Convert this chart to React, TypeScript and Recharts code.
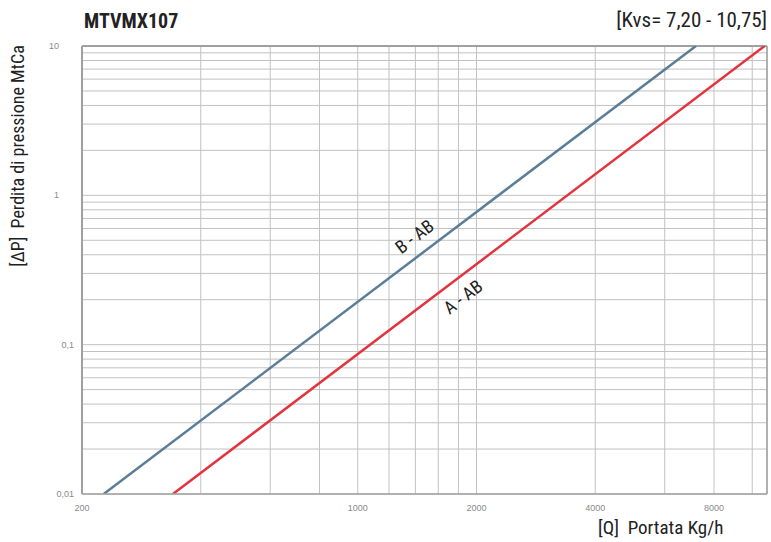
import React from "react";
import {
  LineChart,
  Line,
  XAxis,
  YAxis,
  CartesianGrid,
  ReferenceLine,
  ReferenceDot,
} from "recharts";

// flow rate Q [kg/h] vs pressure drop dP [mCa]
const bAbQ = [227, 7200];
const bAbDp = [0.01, 10];
const aAbQ = [340, 10750];
const aAbDp = [0.01, 10];

const xGridTicks = [200, 400, 600, 800, 1000, 1200, 1400, 1600, 1800, 2000, 4000, 6000, 8000, 10000];
const xLabelTicks = [200, 1000, 2000, 4000, 8000];
const yGridTicks = [
  0.01, 0.02, 0.03, 0.04, 0.05, 0.06, 0.07, 0.08, 0.09,
  0.1, 0.2, 0.3, 0.4, 0.5, 0.6, 0.7, 0.8, 0.9,
  1, 2, 3, 4, 5, 6, 7, 8, 9, 10,
];
const yLabelTicks = [0.01, 0.1, 1, 10];
const yLabelText = ["0,01", "0,1", "1", "10"];

const curveNames = ["B - AB", "A - AB"];
const curveLabelQ = [1400, 1860];
const curveLabelDp = [0.52, 0.205];

const X_MIN = 200;
const X_MAX = 10900;
const Y_MIN = 0.01;
const Y_MAX = 10;

const NARROW = "'Liberation Sans Narrow', 'Arial Narrow', 'Roboto Condensed', 'Liberation Sans', sans-serif";
const GRID = "#c2c2c2";
const FRAME = "#a0a0a0";
const BLUE = "#5b7d98";
const RED = "#e2343f";

const toPoints = (qs: number[], dps: number[]) => qs.map((q, i) => ({ q, dp: dps[i] }));

function XTick(props: any) {
  const { x, y, payload } = props;
  if (!xLabelTicks.includes(payload.value)) return null;
  return (
    <text x={x} y={y + 9} textAnchor="middle" fontSize={9} fill="#8a8a8a" fontFamily="'Liberation Sans', Arial, sans-serif">
      {payload.value}
    </text>
  );
}

function YTick(props: any) {
  const { x, y, payload } = props;
  const i = yLabelTicks.indexOf(payload.value);
  if (i < 0) return null;
  const shift = payload.value >= 1 ? -15 : 0;
  return (
    <text x={x + shift} y={y + 3} textAnchor="end" fontSize={9} fill="#8a8a8a" fontFamily="'Liberation Sans', Arial, sans-serif">
      {yLabelText[i]}
    </text>
  );
}

function CurveLabel(text: string) {
  return (p: any) => (
    <text
      x={p.cx}
      y={p.cy}
      textAnchor="middle"
      dominantBaseline="middle"
      fontSize={18}
      fill="#222"
      fontFamily={NARROW}
      transform={`rotate(-37 ${p.cx} ${p.cy})`}
    >
      {text}
    </text>
  );
}

export default function App() {
  return (
    <div style={{ position: "absolute", left: 0, top: 0, width: 771, height: 542, background: "#fff" }}>
      <div style={{ position: "absolute", left: 84, top: 9, fontFamily: NARROW, fontWeight: "bold", fontSize: 20, color: "#222" }}>
        MTVMX107
      </div>
      <div style={{ position: "absolute", right: 4, top: 8, fontFamily: NARROW, fontSize: 21, color: "#222" }}>
        [Kvs= 7,20 - 10,75]
      </div>
      <div
        style={{
          position: "absolute",
          left: 17,
          top: 156,
          fontFamily: NARROW,
          fontSize: 18,
          color: "#222",
          whiteSpace: "nowrap",
          transform: "translate(-50%, -50%) rotate(-90deg)",
        }}
      >
        [ΔP]&nbsp;&nbsp;Perdita di pressione MtCa
      </div>
      <div
        style={{
          position: "absolute",
          left: 598,
          top: 518,
          fontFamily: NARROW,
          fontSize: 19,
          lineHeight: 1,
          color: "#222",
          whiteSpace: "nowrap",
        }}
      >
        [Q]&nbsp;&nbsp;Portata Kg/h
      </div>
      <LineChart width={771} height={542} margin={{ top: 46, right: 4, bottom: 18, left: 42 }}>
        <CartesianGrid stroke={GRID} strokeWidth={1} horizontal vertical />
        <XAxis
          type="number"
          dataKey="q"
          scale="log"
          domain={[X_MIN, X_MAX]}
          ticks={xGridTicks}
          allowDataOverflow
          height={30}
          tickLine={false}
          axisLine={{ stroke: FRAME, strokeWidth: 1.5 }}
          tick={<XTick />}
          interval={0}
        />
        <YAxis
          type="number"
          dataKey="dp"
          scale="log"
          domain={[Y_MIN, Y_MAX]}
          ticks={yGridTicks}
          allowDataOverflow
          width={40}
          tickLine={false}
          axisLine={{ stroke: FRAME, strokeWidth: 2 }}
          tick={<YTick />}
          interval={0}
        />
        <ReferenceLine y={Y_MAX} stroke={FRAME} strokeWidth={2} />
        <ReferenceLine x={X_MAX} stroke={FRAME} strokeWidth={1.5} />
        <Line
          data={toPoints(bAbQ, bAbDp)}
          dataKey="dp"
          stroke={BLUE}
          strokeWidth={2.5}
          dot={false}
          isAnimationActive={false}
        />
        <Line
          data={toPoints(aAbQ, aAbDp)}
          dataKey="dp"
          stroke={RED}
          strokeWidth={2.5}
          dot={false}
          isAnimationActive={false}
        />
        {curveNames.map((name, i) => (
          <ReferenceDot
            key={name}
            x={curveLabelQ[i]}
            y={curveLabelDp[i]}
            r={0}
            shape={CurveLabel(name)}
          />
        ))}
      </LineChart>
    </div>
  );
}
